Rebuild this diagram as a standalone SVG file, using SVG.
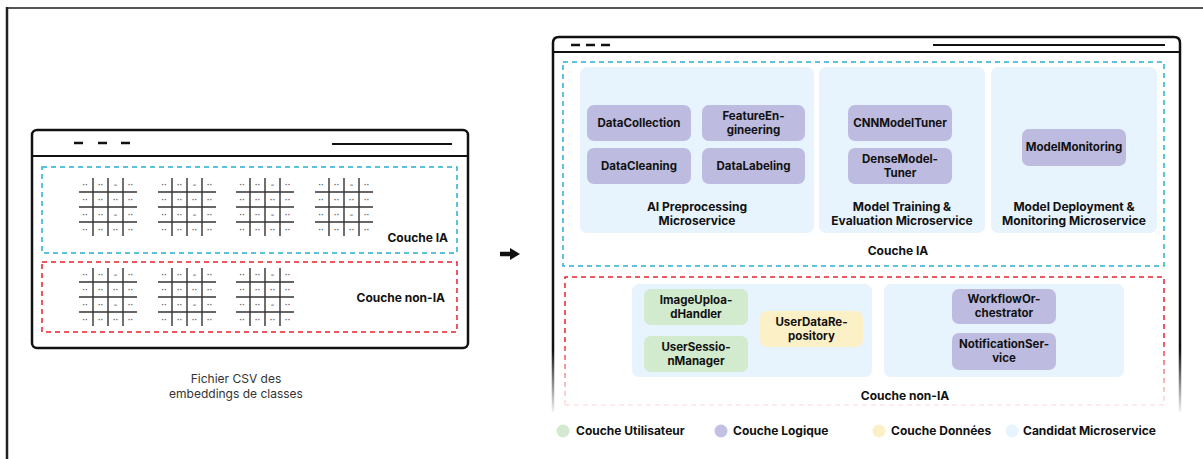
<svg xmlns="http://www.w3.org/2000/svg" width="1203" height="459" viewBox="0 0 1203 459">
<style>
  text { font-family: Inter, "Noto Sans", "Liberation Sans", sans-serif; }
  .b { font-weight: 700; font-size: 11.5px; fill: #111; text-anchor: middle; }
  .t { font-weight: 700; font-size: 12px; fill: #111; text-anchor: middle; }
  .lg { font-weight: 700; font-size: 12px; fill: #111; }
  .cap { font-size: 12px; fill: #333; text-anchor: middle; }
  .svc { fill: #E7F3FD; }
  .logic { fill: #BDBCE0; }
  .user { fill: #D2EACE; }
  .data { fill: #FCF0C6; }
  .gl { stroke: #333; stroke-width: 1.4; }
  .dot { font-family: "DejaVu Sans", sans-serif; font-size: 7px; font-weight: 700; fill: #666; text-anchor: middle; }
  .cyan { fill: none; stroke: #29AED3; stroke-width: 1.5; stroke-dasharray: 5 4; }
  .red { fill: none; stroke: #E8222B; stroke-width: 1.5; stroke-dasharray: 5 4; }
  .frame { fill: none; stroke: #111; stroke-width: 2.5; }
</style>
<defs>
  <symbol id="grid" overflow="visible">
    <line class="gl" x1="0" y1="14" x2="58" y2="14"/>
    <line class="gl" x1="0" y1="29" x2="58" y2="29"/>
    <line class="gl" x1="0" y1="44" x2="58" y2="44"/>
    <line class="gl" x1="14" y1="0" x2="14" y2="58"/>
    <line class="gl" x1="29" y1="0" x2="29" y2="58"/>
    <line class="gl" x1="44" y1="0" x2="44" y2="58"/>
    <text class="dot" x="6" y="9">··</text><text class="dot" x="21.5" y="9">··</text><text class="dot" x="36.5" y="9">–</text><text class="dot" x="51.5" y="9">··</text>
    <text class="dot" x="6" y="24">··</text><text class="dot" x="21.5" y="24">··</text><text class="dot" x="36.5" y="24">··</text><text class="dot" x="51.5" y="24">··</text>
    <text class="dot" x="6" y="39">··</text><text class="dot" x="21.5" y="39">··</text><text class="dot" x="36.5" y="39">–</text><text class="dot" x="51.5" y="39">··</text>
    <text class="dot" x="6" y="54">··</text><text class="dot" x="21.5" y="54">··</text><text class="dot" x="36.5" y="54">··</text><text class="dot" x="51.5" y="54">··</text>
  </symbol>
  <linearGradient id="fadeK" gradientUnits="userSpaceOnUse" x1="0" y1="350" x2="0" y2="412">
    <stop offset="0" stop-color="#111" stop-opacity="1"/>
    <stop offset="1" stop-color="#111" stop-opacity="0.05"/>
  </linearGradient>
  <linearGradient id="fadeR" gradientUnits="userSpaceOnUse" x1="0" y1="340" x2="0" y2="406">
    <stop offset="0" stop-color="#E8222B" stop-opacity="1"/>
    <stop offset="1" stop-color="#E8222B" stop-opacity="0.1"/>
  </linearGradient>
  <marker id="ah" viewBox="0 0 10 12" refX="0" refY="6" markerUnits="userSpaceOnUse" markerWidth="10" markerHeight="12" orient="auto">
    <path d="M0,0 L10,6 L0,12 z" fill="#111"/>
  </marker>
</defs>

<rect x="0" y="0" width="1203" height="459" fill="#fff"/>
<!-- outer frame -->
<line x1="6" y1="8" x2="1203" y2="8" stroke="#555" stroke-width="2"/>
<line x1="7" y1="7" x2="7" y2="459" stroke="#222" stroke-width="2.5"/>

<!-- left window -->
<g id="csv-window">
  <rect class="frame" x="32" y="130" width="436" height="218" rx="5"/>
  <line x1="32" y1="156" x2="468" y2="156" stroke="#111" stroke-width="2"/>
  <line x1="74" y1="143" x2="83" y2="143" stroke="#111" stroke-width="2.5"/>
  <line x1="98" y1="143" x2="107" y2="143" stroke="#111" stroke-width="2.5"/>
  <line x1="121" y1="143" x2="130" y2="143" stroke="#111" stroke-width="2.5"/>
  <line x1="332" y1="144" x2="452" y2="144" stroke="#111" stroke-width="2"/>
</g>
<g id="csv-ia">
  <rect class="cyan" x="42" y="167" width="415" height="86"/>
  <use href="#grid" x="79" y="178"/>
  <use href="#grid" x="158" y="178"/>
  <use href="#grid" x="236" y="178"/>
  <use href="#grid" x="315" y="178"/>
  <text class="lg" x="448" y="242" text-anchor="end">Couche IA</text>
</g>
<g id="csv-nonia">
  <rect class="red" x="42" y="262" width="415" height="70"/>
  <use href="#grid" x="79" y="268"/>
  <use href="#grid" x="158" y="268"/>
  <use href="#grid" x="236" y="268"/>
  <text class="lg" x="445" y="302" text-anchor="end">Couche non-IA</text>
</g>
<g id="csv-caption">
  <text class="cap" x="236" y="383">Fichier CSV des</text>
  <text class="cap" x="236" y="398">embeddings de classes</text>
</g>

<!-- connector -->
<g id="connectors">
  <line x1="500" y1="254" x2="510" y2="254" stroke="#111" stroke-width="4.5" marker-end="url(#ah)"/>
</g>

<!-- right window -->
<g id="arch-window">
  <path d="M553,412 L553,43 Q553,37 559,37 L1174,37 Q1180,37 1180,43 L1180,412" fill="none" stroke="url(#fadeK)" stroke-width="2.5"/>
  <line x1="553" y1="52" x2="1180" y2="52" stroke="#111" stroke-width="2"/>
  <line x1="571" y1="45" x2="580" y2="45" stroke="#111" stroke-width="2.5"/>
  <line x1="586" y1="45" x2="595" y2="45" stroke="#111" stroke-width="2.5"/>
  <line x1="601" y1="45" x2="610" y2="45" stroke="#111" stroke-width="2.5"/>
  <line x1="933" y1="45" x2="1165" y2="45" stroke="#111" stroke-width="2"/>
</g>

<g id="layer-ia">
  <rect class="cyan" x="563" y="62" width="601" height="204"/>
  <text class="t" x="898" y="255">Couche IA</text>
</g>

<g id="ms-preprocessing">
  <rect class="svc" x="580" y="67" width="234" height="166" rx="7"/>
  <text class="t" x="697" y="211">AI Preprocessing</text>
  <text class="t" x="697" y="225">Microservice</text>
</g>
<g id="DataCollection"><rect class="logic" x="587" y="105" width="104" height="36" rx="7"/><text class="b" x="639" y="127">DataCollection</text></g>
<g id="FeatureEngineering"><rect class="logic" x="702" y="105" width="103" height="36" rx="7"/><text class="b" x="753.5" y="120">FeatureEn-</text><text class="b" x="753.5" y="134">gineering</text></g>
<g id="DataCleaning"><rect class="logic" x="587" y="148" width="104" height="36" rx="7"/><text class="b" x="639" y="170">DataCleaning</text></g>
<g id="DataLabeling"><rect class="logic" x="702" y="148" width="103" height="36" rx="7"/><text class="b" x="753.5" y="170">DataLabeling</text></g>

<g id="ms-training">
  <rect class="svc" x="819" y="67" width="166" height="166" rx="7"/>
  <text class="t" x="902" y="211">Model Training &amp;</text>
  <text class="t" x="902" y="225">Evaluation Microservice</text>
</g>
<g id="CNNModelTuner"><rect class="logic" x="848" y="105" width="104" height="36" rx="7"/><text class="b" x="900" y="127">CNNModelTuner</text></g>
<g id="DenseModelTuner"><rect class="logic" x="848" y="148" width="104" height="36" rx="7"/><text class="b" x="900" y="163">DenseModel-</text><text class="b" x="900" y="177">Tuner</text></g>

<g id="ms-deployment">
  <rect class="svc" x="991" y="67" width="166" height="166" rx="7"/>
  <text class="t" x="1074" y="211">Model Deployment &amp;</text>
  <text class="t" x="1074" y="225">Monitoring Microservice</text>
</g>
<g id="ModelMonitoring"><rect class="logic" x="1022" y="129" width="104" height="37" rx="7"/><text class="b" x="1074" y="151">ModelMonitoring</text></g>

<g id="layer-nonia">
  <path d="M565,405 L565,277 L1164,277 L1164,405" fill="none" stroke="url(#fadeR)" stroke-width="1.5" stroke-dasharray="5 4"/>
  <line x1="565" y1="405" x2="1164" y2="405" stroke="#E8222B" stroke-opacity="0.12" stroke-width="1.5" stroke-dasharray="5 4"/>
  <text class="t" x="905" y="400">Couche non-IA</text>
</g>

<g id="ms-user">
  <rect class="svc" x="632" y="284" width="240" height="93" rx="7"/>
</g>
<g id="ImageUploadHandler"><rect class="user" x="644" y="289" width="104" height="36" rx="7"/><text class="b" x="696" y="304">ImageUploa-</text><text class="b" x="696" y="318">dHandler</text></g>
<g id="UserSessionManager"><rect class="user" x="644" y="336" width="104" height="36" rx="7"/><text class="b" x="696" y="351">UserSessio-</text><text class="b" x="696" y="365">nManager</text></g>
<g id="UserDataRepository"><rect class="data" x="760" y="311" width="103" height="36" rx="7"/><text class="b" x="811.5" y="326">UserDataRe-</text><text class="b" x="811.5" y="340">pository</text></g>

<g id="ms-logic">
  <rect class="svc" x="884" y="284" width="240" height="93" rx="7"/>
</g>
<g id="WorkflowOrchestrator"><rect class="logic" x="952" y="289" width="104" height="35" rx="7"/><text class="b" x="1004" y="303">WorkflowOr-</text><text class="b" x="1004" y="317">chestrator</text></g>
<g id="NotificationService"><rect class="logic" x="952" y="333" width="104" height="37" rx="7"/><text class="b" x="1004" y="348">NotificationSer-</text><text class="b" x="1004" y="362">vice</text></g>

<g id="legend">
  <circle cx="563" cy="431" r="6.5" fill="#D2EACE"/>
  <text class="lg" x="576" y="435">Couche Utilisateur</text>
  <circle cx="721" cy="431" r="6.5" fill="#C2C0E3"/>
  <text class="lg" x="733" y="435">Couche Logique</text>
  <circle cx="879" cy="431" r="6.5" fill="#FCF0C6"/>
  <text class="lg" x="891" y="435">Couche Données</text>
  <circle cx="1012" cy="431" r="6.5" fill="#E7F3FD"/>
  <text class="lg" x="1023" y="435">Candidat Microservice</text>
</g>
</svg>
